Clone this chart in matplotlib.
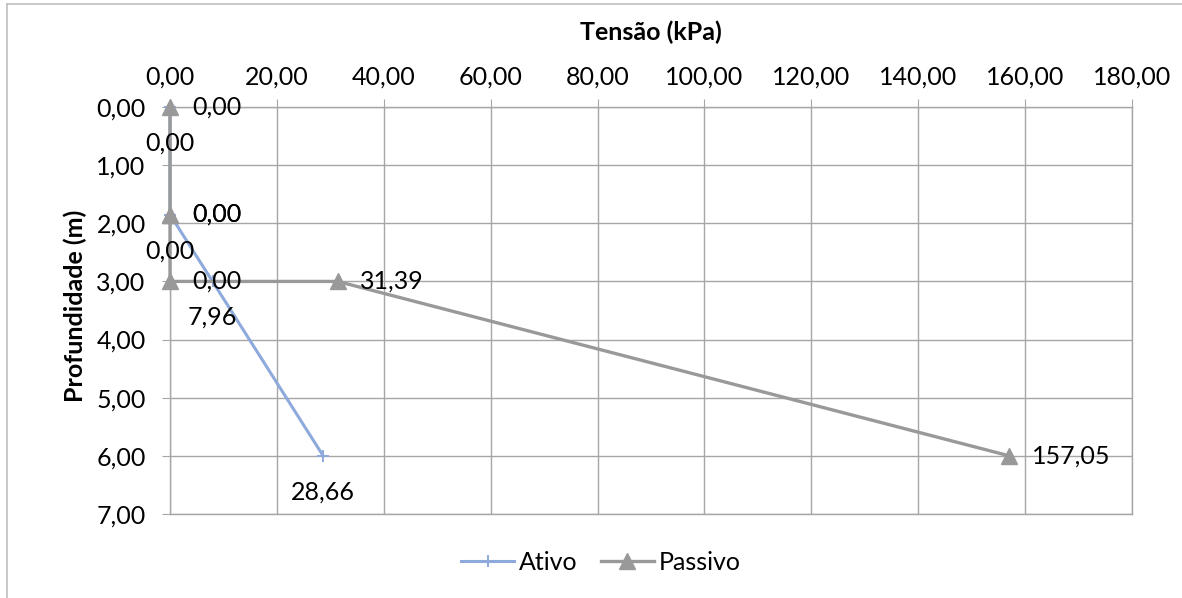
import matplotlib.pyplot as plt
from matplotlib.lines import Line2D
from matplotlib.ticker import FuncFormatter

# dados
ativo_x = [0.00, 0.00, 7.96, 28.66]
ativo_y = [0.00, 1.85, 3.00, 6.00]
ativo_lbl = ["0,00", "0,00", "7,96", "28,66"]

passivo_x = [0.00, 0.00, 0.00, 0.00, 31.39, 157.05]
passivo_y = [0.00, 1.85, 1.85, 3.00, 3.00, 6.00]
passivo_lbl = ["0,00", "0,00", "0,00", "0,00", "31,39", "157,05"]

x_ticks = [0, 20, 40, 60, 80, 100, 120, 140, 160, 180]
y_ticks = [0, 1, 2, 3, 4, 5, 6, 7]

plt.rcParams['font.family'] = ['Lato', 'DejaVu Sans']

W, H = 1182, 598
FS = 18
fig = plt.figure(figsize=(W / 100, H / 100), dpi=100)
ax = fig.add_axes([170 / W, 1 - 514 / H, (1132 - 170) / W, (514 - 107) / H])

blue = "#8EA9DB"
gray = "#999999"

ax.plot(ativo_x, ativo_y, color=blue, lw=2.2, marker='+', ms=9, mew=1.4,
        zorder=3, clip_on=False)
ax.plot(passivo_x, passivo_y, color=gray, lw=2.4, marker='^', ms=11.5,
        zorder=4, clip_on=False)

for x, y, t in zip(ativo_x, ativo_y, ativo_lbl):
    ax.annotate(t, (x, y), xytext=(0, -26), textcoords='offset points',
                ha='center', va='center', fontsize=FS, zorder=5)
for x, y, t in zip(passivo_x, passivo_y, passivo_lbl):
    ax.annotate(t, (x, y), xytext=(16, 0), textcoords='offset points',
                ha='left', va='center', fontsize=FS, zorder=5)

fmt = FuncFormatter(lambda v, p: f"{v:.2f}".replace('.', ','))
ax.set_xlim(0, 180)
ax.set_ylim(7, 0)
ax.set_xticks(x_ticks)
ax.set_yticks(y_ticks)
ax.xaxis.set_major_formatter(fmt)
ax.yaxis.set_major_formatter(fmt)
ax.xaxis.tick_top()
ax.tick_params(labelsize=FS, length=5.5, color="#A6A6A6")
ax.tick_params(axis='x', pad=8)
ax.tick_params(axis='y', pad=12)
ax.grid(True, color="#A6A6A6", lw=1)
ax.set_axisbelow(True)
for s in ax.spines.values():
    s.set_color("#A6A6A6")
    s.set_linewidth(1)

fig.text(651 / W, 1 - 32 / H, "Tensão (kPa)", ha='center', va='center',
         fontsize=FS, fontweight='bold')
fig.text(75 / W, 1 - 306 / H, "Profundidade (m)", ha='center', va='center',
         rotation=90, fontsize=FS, fontweight='bold')

handles = [
    Line2D([], [], color=blue, lw=2.2, marker='+', ms=9, mew=1.4),
    Line2D([], [], color=gray, lw=2.4, marker='^', ms=11.5),
]
fig.legend(handles, ["Ativo", "Passivo"], loc='center',
           bbox_to_anchor=(601 / W, 1 - 562 / H), ncol=2, frameon=False,
           fontsize=FS, handlelength=2.1, handletextpad=0.2, columnspacing=0.95)

# moldura externa (cortada a direita e embaixo)
fig.add_artist(Line2D([7 / W, 7 / W], [0, 1 - 4 / H], color="#BFBFBF", lw=1.2))
fig.add_artist(Line2D([7 / W, 1], [1 - 4 / H, 1 - 4 / H], color="#BFBFBF", lw=1.2))

fig.savefig("out.png", dpi=100)
